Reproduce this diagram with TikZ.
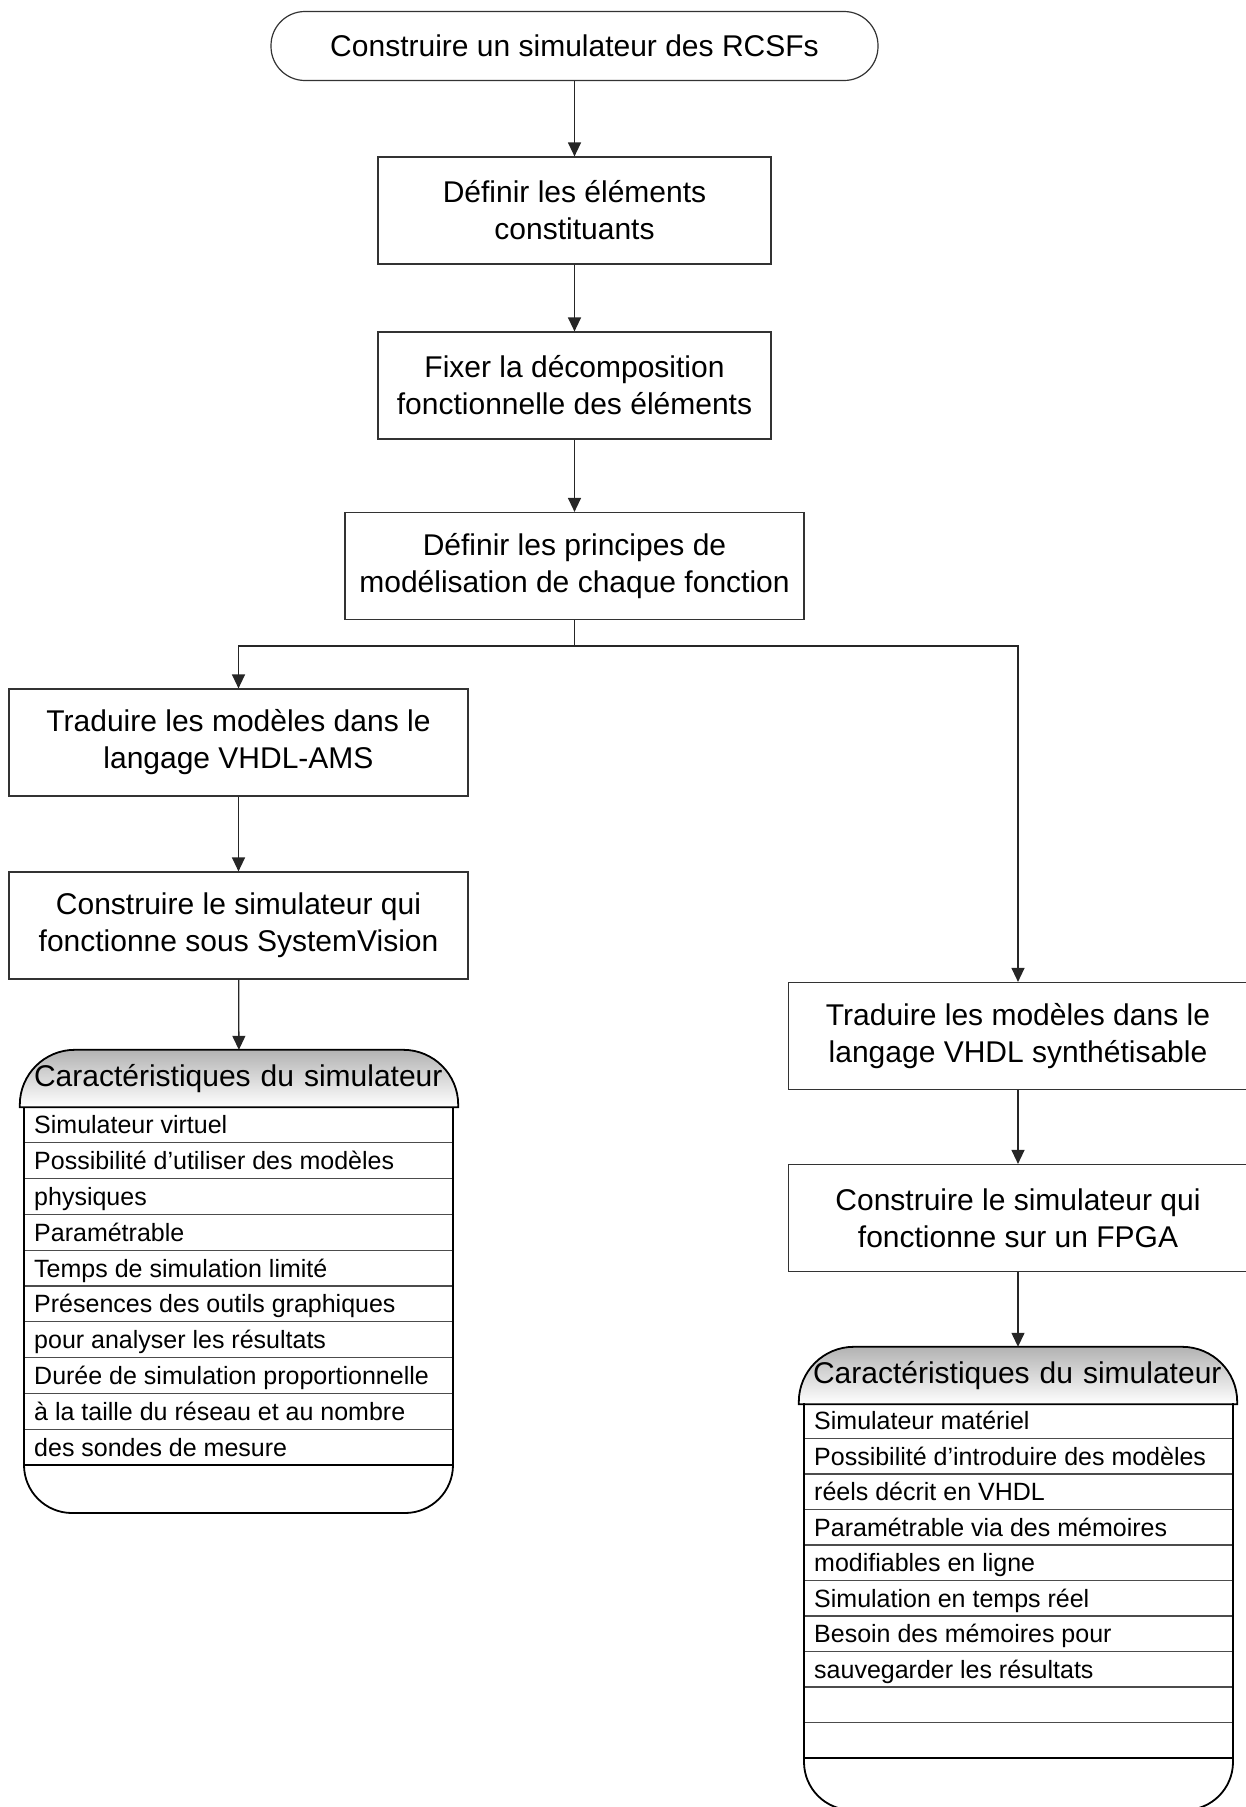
\documentclass[tikz,border=0pt]{standalone}
\usepackage{fontspec}
\setmainfont{Liberation Sans}
\usepackage{tikz}
\usetikzlibrary{arrows.meta,positioning,backgrounds}

\begin{document}
\begin{tikzpicture}[x=1pt,y=-1pt,
    etape/.style={rectangle,draw=black!80,line width=1.2pt,minimum width=459pt,minimum height=107pt,
      align=center,inner sep=0pt,font=\fontsize{30}{37}\selectfont},
    debut/.style={etape,rounded corners=34pt,minimum width=607pt,minimum height=69pt},
    fleche/.style={draw=black!85,line width=1.3pt,-{Triangle[length=14pt,width=13pt]}},
    entete/.style={rectangle,minimum width=438pt,minimum height=57pt,inner xsep=14pt,
      text width=410pt,align=left,font=\fontsize{30}{35}\selectfont},
    ligne/.style={anchor=west,inner sep=0pt,text height=18pt,text depth=0pt,font=\fontsize{25}{30}\selectfont},
    contour/.style={draw=black,line width=1.8pt},
    separ/.style={draw=black!70,line width=1.2pt}]

\useasboundingbox (0,0) rectangle (1246,1807);
\clip (0,0) rectangle (1246,1807);

% tronc commun
\node[debut] (but) at (574.5,46) {Construire un simulateur des RCSFs};
\node[etape,minimum width=393pt] (elem) at (574.5,210.5) {Définir les éléments\\constituants};
\node[etape,minimum width=393pt] (decomp) at (574.5,385.5) {Fixer la décomposition\\fonctionnelle des éléments};
\node[etape] (princ) at (574.5,566) {Définir les principes de\\modélisation de chaque fonction};
\coordinate (split) at (574.5,646);

% branche VHDL-AMS
\node[etape] (vams) at (238.5,742.5) {Traduire les modèles dans le\\langage VHDL-AMS};
\node[etape] (sysv) at (238.5,925.5) {Construire le simulateur qui\\fonctionne sous SystemVision};
\node[entete] (caracV) at (239,1078.5) {Caractéristiques du simulateur};

% branche FPGA
\node[etape] (vsyn) at (1018,1036) {Traduire les modèles dans le\\langage VHDL synthétisable};
\node[etape] (fpga) at (1018,1218) {Construire le simulateur qui\\fonctionne sur un FPGA};
\node[entete] (caracF) at (1018,1375.5) {Caractéristiques du simulateur};

\begin{scope}[on background layer]
  \foreach \c in {caracV,caracF}
    \draw[contour,top color=black!30,bottom color=white] (\c.south west) [rounded corners=55pt]
      -- (\c.north west) -- (\c.north east) [sharp corners] -- (\c.south east) -- cycle;
\end{scope}

% liste du simulateur virtuel
\foreach \t [count=\i] in {Simulateur virtuel,Possibilité d’utiliser des modèles,physiques,Paramétrable,
    Temps de simulation limité,Présences des outils graphiques,pour analyser les résultats,
    Durée de simulation proportionnelle,à la taille du réseau et au nombre,des sondes de mesure}
  \node[ligne] (v\i) at (34,{1107+35.8*\i-17.9}) {\t};
\foreach \i in {1,...,9}
  \draw[separ] (24,{1107+35.8*\i}) -- (453,{1107+35.8*\i});
\draw[contour,rounded corners=48pt] (24,1107) -- (24,1513) -- (453,1513) -- (453,1107);
\draw[contour] (24,1465) -- (453,1465);

% liste du simulateur materiel
\foreach \t [count=\i] in {Simulateur matériel,Possibilité d’introduire des modèles,réels décrit en VHDL,
    Paramétrable via des mémoires,modifiables en ligne,Simulation en temps réel,
    Besoin des mémoires pour,sauvegarder les résultats}
  \node[ligne] (f\i) at (814,{1403+35.5*\i-17.75}) {\t};
\foreach \i in {1,...,9}
  \draw[separ] (804,{1403+35.5*\i}) -- (1233,{1403+35.5*\i});
\draw[contour,rounded corners=48pt] (804,1403) -- (804,1810) -- (1233,1810) -- (1233,1403);
\draw[contour] (804,1758) -- (1233,1758);

% fleches
\draw[fleche] (but) -- (elem);
\draw[fleche] (elem) -- (decomp);
\draw[fleche] (decomp) -- (princ);
\draw[fleche,-] (princ) -- (split);
\draw[fleche] (split) -| (vams);
\draw[fleche] (split) -| (vsyn);
\draw[fleche] (vams) -- (sysv);
\draw[fleche] (sysv) -- (caracV);
\draw[fleche] (vsyn) -- (fpga);
\draw[fleche] (fpga) -- (caracF);
\end{tikzpicture}
\end{document}
